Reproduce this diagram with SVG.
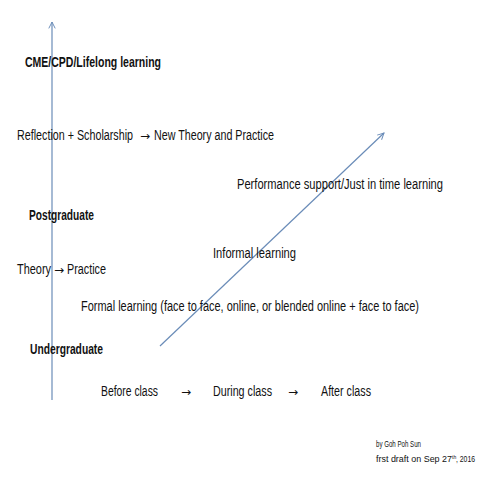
<svg xmlns="http://www.w3.org/2000/svg" width="480" height="480" viewBox="0 0 480 480">
<style>
text{font-family:"Liberation Sans",Arial,sans-serif;font-size:14px;fill:#111}
.b{font-weight:bold}
.s{font-size:9px}
.ar{font-family:"DejaVu Sans",sans-serif;font-size:12px}
.ln{stroke:#6a8cb8;stroke-width:1.2;fill:none}
</style>
<defs>
<marker id="ah" viewBox="0 0 10 10" refX="9" refY="5" markerWidth="8" markerHeight="8" markerUnits="userSpaceOnUse" orient="auto">
<path d="M1,1 L9,5 L1,9" fill="none" stroke="#6a8cb8" stroke-width="1.2"/>
</marker>
</defs>
<rect width="480" height="480" fill="#fff"/>
<g id="connectors">
<line class="ln" x1="52" y1="400" x2="52" y2="22" marker-end="url(#ah)"/>
<line class="ln" x1="160" y1="346" x2="384" y2="133" marker-end="url(#ah)"/>
</g>
<g id="cme"><text class="b" x="25" y="67" textLength="136" lengthAdjust="spacingAndGlyphs">CME/CPD/Lifelong learning</text></g>
<g id="reflection">
<text x="17" y="140" textLength="116" lengthAdjust="spacingAndGlyphs">Reflection + Scholarship</text>
<text class="ar" x="140" y="140">→</text>
<text x="154" y="140" textLength="120" lengthAdjust="spacingAndGlyphs">New Theory and Practice</text>
</g>
<g id="performance"><text x="237" y="189" textLength="206" lengthAdjust="spacingAndGlyphs">Performance support/Just in time learning</text></g>
<g id="postgraduate"><text class="b" x="29" y="220" textLength="65" lengthAdjust="spacingAndGlyphs">Postgraduate</text></g>
<g id="informal"><text x="213" y="258" textLength="83" lengthAdjust="spacingAndGlyphs">Informal learning</text></g>
<g id="theory">
<text x="17" y="274" textLength="34" lengthAdjust="spacingAndGlyphs">Theory</text>
<text class="ar" x="54" y="274">→</text>
<text x="67" y="274" textLength="39" lengthAdjust="spacingAndGlyphs">Practice</text>
</g>
<g id="formal"><text x="81" y="311" textLength="338" lengthAdjust="spacingAndGlyphs">Formal learning (face to face, online, or blended online + face to face)</text></g>
<g id="undergraduate"><text class="b" x="30" y="354" textLength="73" lengthAdjust="spacingAndGlyphs">Undergraduate</text></g>
<g id="classes">
<text x="101" y="396" textLength="57" lengthAdjust="spacingAndGlyphs">Before class</text>
<text class="ar" x="181" y="396">→</text>
<text x="213" y="396" textLength="59" lengthAdjust="spacingAndGlyphs">During class</text>
<text class="ar" x="288" y="396">→</text>
<text x="321" y="396" textLength="50" lengthAdjust="spacingAndGlyphs">After class</text>
</g>
<g id="credits">
<text class="s" x="376" y="447" textLength="45" lengthAdjust="spacingAndGlyphs">by Goh Poh Sun</text>
<text class="s" x="376" y="462"><tspan textLength="76" lengthAdjust="spacingAndGlyphs">frst draft on Sep 27</tspan><tspan dy="-3" font-size="5">th</tspan><tspan dy="3" x="456" textLength="19" lengthAdjust="spacingAndGlyphs">, 2016</tspan></text>
</g>
</svg>
